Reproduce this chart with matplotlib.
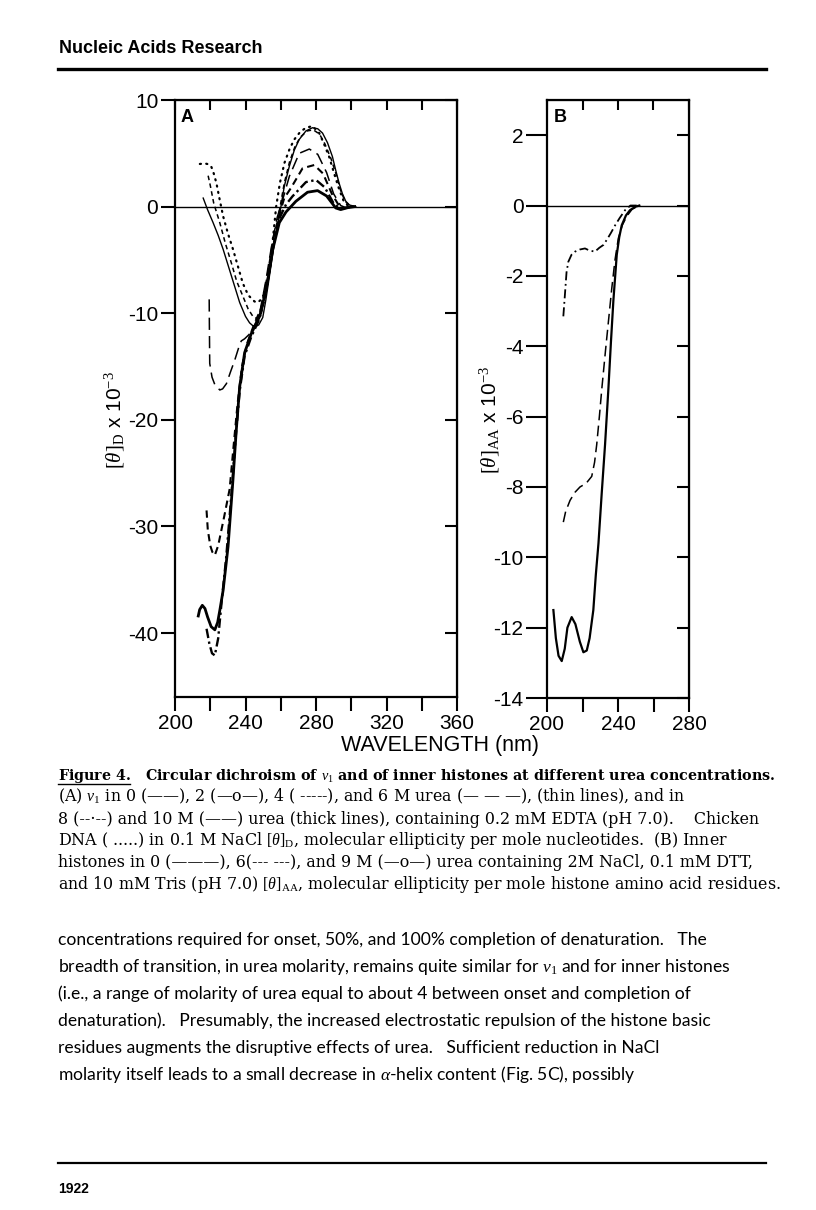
import matplotlib.pyplot as plt

plt.rcParams["font.family"] = ["Liberation Sans", "DejaVu Sans"]
plt.rcParams["axes.unicode_minus"] = False
plt.rcParams["mathtext.fontset"] = "custom"
plt.rcParams["mathtext.rm"] = "Liberation Serif"
plt.rcParams["mathtext.it"] = "Liberation Serif:italic"
plt.rcParams["mathtext.bf"] = "Liberation Serif:bold"

W, H = 816, 1210

# ---- panel A: nu1 particles, [theta]_D x 10^-3 vs wavelength (nm) ----
dna_nm = [214.1, 217, 219.5, 220.7, 222, 223.5, 225.3, 227.3, 230, 232.9, 235.7, 238.5,
          241.5, 245.1, 247, 248.9, 250.8, 252.7, 254.2, 255.5, 257.4, 259.5, 262.1, 265,
          267.7, 271, 274.3, 278, 281.8, 284.5, 287.4, 290.5, 293, 295.5, 298, 301]
dna_cd = [4.0, 4.05, 3.95, 3.7, 3.1, 2.2, 0.7, -0.9, -2.5, -4.0, -5.6, -7.2,
          -8.3, -8.9, -9.0, -8.7, -8.1, -7.2, -5.3, -3.1, 0.0, 2.2, 4.1, 5.4,
          6.3, 7.0, 7.4, 7.55, 6.9, 5.9, 4.7, 3.0, 1.7, 0.6, 0.1, 0.0]

urea0_nm = [216, 218.5, 221.6, 224.5, 227.3, 232, 236.7, 240, 242.3, 245, 247.5, 249.8,
            251.5, 253.6, 256.3, 259.2, 262, 264.9, 267.7, 270.5, 274.3, 278, 281, 283.7,
            286.5, 289.3, 291.2, 293.1, 295, 296.9, 299, 302.5]
urea0_cd = [0.8, -0.3, -1.5, -2.7, -4.0, -6.5, -9.0, -10.3, -10.9, -11.3, -11.1, -10.4,
            -8.8, -6.5, -3.5, -0.9, 1.9, 3.8, 5.3, 6.3, 7.1, 7.4, 7.3, 6.9,
            6.0, 4.7, 3.4, 2.2, 1.2, 0.5, 0.15, 0.0]

urea2_nm = [218.8, 220, 222, 225.4, 228.5, 232, 235, 238.5, 241.5, 244.2, 246.5, 249,
            251.5, 254, 256.5, 259, 262, 265, 268, 271, 275, 278.5, 282, 285,
            288.5, 291.5, 294, 296.5, 299, 302]
urea2_cd = [2.9, 2.0, 0.3, -1.5, -3.4, -5.3, -7.0, -8.4, -9.6, -10.3, -10.5, -10.0,
            -8.3, -5.8, -3.0, -0.6, 2.2, 4.2, 5.6, 6.5, 7.1, 7.2, 6.8, 5.9,
            4.5, 3.0, 1.5, 0.5, 0.1, 0.0]

urea6_nm = [219.4, 219.5, 219.7, 221, 222.6, 225.4, 227, 229.2, 231.5, 233.9, 236, 237.6,
            239.5, 242, 245, 248, 251.5, 255, 258, 261, 264.9, 270.5, 276.2, 281,
            286, 290, 294, 297, 300]
urea6_cd = [-8.7, -11.0, -14.7, -16.0, -16.7, -17.2, -17.1, -16.6, -15.5, -14.4, -13.3, -12.6,
            -12.4, -12.0, -11.2, -10.0, -7.0, -3.5, -1.0, 0.6, 2.85, 5.0, 5.4, 4.9,
            3.2, 1.2, 0.1, -0.1, 0.0]

urea4_nm = [217.9, 218.6, 220, 221.2, 222.6, 224.5, 228, 231, 233.5, 235.5, 238, 241,
            245, 249, 252.5, 256, 260, 262, 265.8, 272.4, 279, 284, 289, 293, 296, 300]
urea4_cd = [-28.5, -30.3, -31.8, -32.4, -32.7, -31.8, -29.0, -26.5, -22.0, -18.5, -15.0, -12.8,
            -11.0, -9.5, -6.5, -2.8, -0.3, 0.8, 1.75, 3.6, 3.9, 3.1, 1.2, 0.1, -0.15, 0.0]

urea8_nm = [217.9, 219.5, 221, 222.6, 224.5, 226.5, 229, 232, 234.5, 236.7, 239.5, 243.3,
            248, 252, 256, 259.5, 263, 266.7, 274.3, 280, 285, 290, 293, 296, 300]
urea8_cd = [-39.6, -41.0, -41.9, -42.1, -40.5, -37.0, -33.0, -27.0, -21.5, -17.3, -14.0, -12.2,
            -10.5, -7.5, -3.5, -1.0, 0.2, 0.97, 2.3, 2.5, 1.8, 0.3, -0.1, -0.15, 0.0]

urea10_nm = [213.2, 214, 215.5, 217, 218.5, 220.5, 222.6, 224.2, 225.5, 227.3, 230.1, 232.9,
             234.8, 236.7, 239.5, 243.3, 248, 251.7, 255.5, 259.2, 263, 268.6, 275.2, 280.9,
             286, 291.2, 294, 298, 302]
urea10_cd = [-38.4, -37.8, -37.4, -37.7, -38.5, -39.4, -39.7, -39.0, -37.8, -36.0, -31.9, -25.6,
             -20.9, -16.9, -13.7, -11.9, -10.3, -7.8, -4.0, -1.5, -0.5, 0.5, 1.35, 1.5,
             1.0, -0.13, -0.28, -0.1, 0.0]

# ---- panel B: inner histones, [theta]_AA x 10^-3 ----
hist0_nm = [203.6, 205, 206.5, 208.3, 210, 211.5, 213.9, 216, 218.5, 220.5, 222.4, 224,
            226.1, 227.5, 229, 230.8, 232.7, 234.6, 236, 237.4, 239.3, 240.7, 242.1, 244.5,
            246.8, 250, 252]
hist0_cd = [-11.5, -12.3, -12.8, -12.95, -12.6, -12.0, -11.7, -11.9, -12.4, -12.7, -12.65, -12.3,
            -11.5, -10.5, -9.6, -8.2, -6.8, -5.2, -3.9, -2.7, -1.4, -0.9, -0.56, -0.28,
            -0.13, -0.03, 0.0]

hist6_nm = [209.2, 210.5, 213, 215.8, 218.6, 222, 225.2, 226.8, 228, 229.5, 230.9, 233,
            234.8, 236.5, 238.3, 240.2, 242.5, 245, 248, 252]
hist6_cd = [-9.0, -8.7, -8.38, -8.15, -8.0, -7.9, -7.7, -7.3, -6.8, -6.0, -5.2, -4.1,
            -3.2, -2.35, -1.55, -0.93, -0.55, -0.3, -0.1, 0.0]

hist9_nm = [209.2, 210, 211, 212, 213.8, 215.8, 218.5, 221.4, 224, 227, 229.5, 231.8,
            234, 236, 238.4, 241, 244, 247, 252]
hist9_cd = [-3.15, -2.6, -1.9, -1.6, -1.4, -1.31, -1.25, -1.22, -1.28, -1.31, -1.2, -1.12,
            -0.95, -0.78, -0.56, -0.35, -0.13, 0.0, 0.0]

a_xticks = [200, 220, 240, 260, 280, 300, 320, 340, 360]
a_xlabels = ["200", "", "240", "", "280", "", "320", "", "360"]
a_yticks = [-40, -30, -20, -10, 0, 10]
b_xticks = [200, 220, 240, 260, 280]
b_xlabels = ["200", "", "240", "", "280"]
b_yticks = [-14, -12, -10, -8, -6, -4, -2, 0, 2]

caption_lines = [
    r"Figure 4.   Circular dichroism of $\nu_1$ and of inner histones at different urea concentrations.",
    r"(A) $\nu_1$ in 0 (——), 2 (—o—), 4 ( -----), and 6 M urea (— — —), (thin lines), and in",
    r"8 (--·--) and 10 M (——) urea (thick lines), containing 0.2 mM EDTA (pH 7.0).    Chicken",
    r"DNA ( .....) in 0.1 M NaCl $[\theta]_\mathrm{D}$, molecular ellipticity per mole nucleotides.  (B) Inner",
    r"histones in 0 (———), 6(--- ---), and 9 M (—o—) urea containing 2M NaCl, 0.1 mM DTT,",
    r"and 10 mM Tris (pH 7.0) $[\theta]_\mathrm{AA}$, molecular ellipticity per mole histone amino acid residues.",
]
body_lines = [
    "concentrations required for onset, 50%, and 100% completion of denaturation.   The",
    r"breadth of transition, in urea molarity, remains quite similar for $\nu_1$ and for inner histones",
    "(i.e., a range of molarity of urea equal to about 4 between onset and completion of",
    "denaturation).   Presumably, the increased electrostatic repulsion of the histone basic",
    "residues augments the disruptive effects of urea.   Sufficient reduction in NaCl",
    r"molarity itself leads to a small decrease in $\alpha$-helix content (Fig. 5C), possibly",
]


def fx(px):
    return px / W


def fy(py):
    return 1 - py / H


def frame(ax, xticks, xlabels, yticks, ylim, xlim):
    ax.set_xlim(*xlim)
    ax.set_ylim(*ylim)
    ax.set_xticks(xticks, xlabels)
    ax.set_yticks(yticks, [str(v) for v in yticks])
    ax.tick_params(direction="out", length=10, width=1.5, labelsize=15, pad=2)
    for spine in ax.spines.values():
        spine.set_linewidth(1.6)
    top = ax.secondary_xaxis("top")
    top.set_xticks(xticks, [""] * len(xticks))
    top.tick_params(direction="in", length=7, width=1.5)
    right = ax.secondary_yaxis("right")
    right.set_yticks(yticks, [""] * len(yticks))
    right.tick_params(direction="in", length=9, width=1.5)
    ax.axhline(0, color="black", lw=1.0, zorder=1)


fig = plt.figure(figsize=(W / 100, H / 100), dpi=100)

ax_a = fig.add_axes([fx(175), fy(697), (457 - 175) / W, (697 - 100) / H])
frame(ax_a, a_xticks, a_xlabels, a_yticks, (-46, 10), (200, 360))
ax_a.plot(dna_nm, dna_cd, color="black", lw=1.6, ls=(0, (0.5, 2.4)), dash_capstyle="round")
ax_a.plot(urea0_nm, urea0_cd, color="black", lw=1.0)
ax_a.plot(urea2_nm, urea2_cd, color="black", lw=1.1, ls=(0, (3, 2.2)))
ax_a.plot(urea6_nm, urea6_cd, color="black", lw=1.1, ls=(0, (8, 4)))
ax_a.plot(urea4_nm, urea4_cd, color="black", lw=1.5, ls=(0, (3.5, 2.2)))
ax_a.plot(urea8_nm, urea8_cd, color="black", lw=1.7, ls=(0, (4, 1.5, 1, 1.5)))
ax_a.plot(urea10_nm, urea10_cd, color="black", lw=2.0)
ax_a.text(0.02, 0.985, "A", transform=ax_a.transAxes, fontsize=13, fontweight="bold",
          ha="left", va="top")

ax_b = fig.add_axes([fx(547), fy(698), (689 - 547) / W, (698 - 100) / H])
frame(ax_b, b_xticks, b_xlabels, b_yticks, (-14, 3), (200, 280))
ax_b.tick_params(axis="y", length=15)
ax_b.plot(hist0_nm, hist0_cd, color="black", lw=1.6)
ax_b.plot(hist6_nm, hist6_cd, color="black", lw=1.1, ls=(0, (7, 3.5)))
ax_b.plot(hist9_nm, hist9_cd, color="black", lw=1.3, ls=(0, (5, 2, 1, 2)))
ax_b.text(0.05, 0.985, "B", transform=ax_b.transAxes, fontsize=13, fontweight="bold",
          ha="left", va="top")

fig.text(fx(115), fy(420), r"$[\theta]_\mathrm{D}$ x 10$^{-3}$", rotation=90,
         ha="center", va="center", fontsize=15)
fig.text(fx(490), fy(420), r"$[\theta]_\mathrm{AA}$ x 10$^{-3}$", rotation=90,
         ha="center", va="center", fontsize=15)
fig.text(fx(440), fy(746), "WAVELENGTH (nm)", ha="center", va="center", fontsize=15.5)

# page furniture
fig.text(fx(59), fy(53), "Nucleic Acids Research", fontsize=13, fontweight="bold",
         ha="left", va="baseline")
fig.add_artist(plt.Line2D([fx(58), fx(766)], [fy(69), fy(69)], color="black", lw=2.4))

renderer = fig.canvas.get_renderer()
for i, line in enumerate(caption_lines):
    txt = fig.text(fx(58), fy(780 + 21.8 * i), line, ha="left", va="baseline",
                   family=["DejaVu Serif"], fontsize=11.4,
                   fontweight="bold" if i == 0 else "normal")
    if i == 0:
        # the heading line is set bold; shrink it to the reference's 720 px measure
        width = txt.get_window_extent(renderer).width
        txt.set_fontsize(11.4 * min(1.0, 720 / width))
        if i == 0:
            # underline "Figure 4."
            probe = fig.text(fx(58), fy(780), "Figure 4.", family=["DejaVu Serif"],
                             fontsize=txt.get_fontsize(), fontweight="bold", alpha=0)
            uw = probe.get_window_extent(renderer).width
            fig.add_artist(plt.Line2D([fx(58), fx(58 + uw)], [fy(784), fy(784)],
                                      color="black", lw=1.0))

for i, line in enumerate(body_lines):
    fig.text(fx(58), fy(945 + 27 * i), line, ha="left", va="baseline",
             family=["Lato", "DejaVu Sans"], fontsize=12.6)

fig.add_artist(plt.Line2D([fx(58), fx(766)], [fy(1163), fy(1163)], color="black", lw=1.6))
fig.text(fx(58), fy(1193), "1922", fontsize=10, fontweight="bold", ha="left", va="baseline")

fig.savefig("out.png", dpi=100)
